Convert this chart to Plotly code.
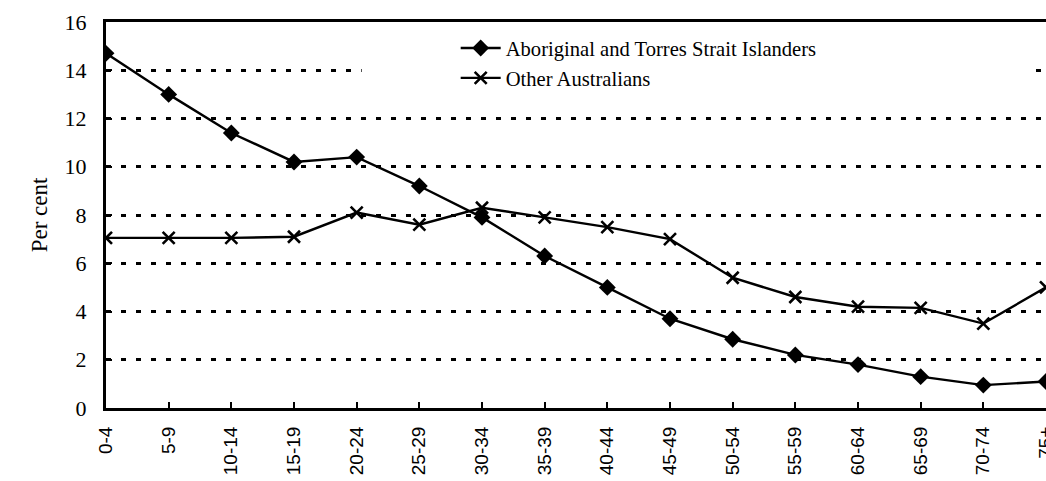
import plotly.graph_objects as go

age_groups = ["0-4", "5-9", "10-14", "15-19", "20-24", "25-29", "30-34", "35-39",
              "40-44", "45-49", "50-54", "55-59", "60-64", "65-69", "70-74", "75+"]
aboriginal = [14.7, 13.0, 11.4, 10.2, 10.4, 9.2, 7.9, 6.3, 5.0, 3.7, 2.85, 2.2, 1.8, 1.3, 0.95, 1.1]
other_aus = [7.05, 7.05, 7.05, 7.1, 8.1, 7.6, 8.3, 7.9, 7.5, 7.0, 5.4, 4.6, 4.2, 4.15, 3.5, 5.0]
y_ticks = [0, 2, 4, 6, 8, 10, 12, 14, 16]

fig = go.Figure()
fig.add_trace(go.Scatter(
    x=age_groups, y=aboriginal, mode="lines+markers",
    name="Aboriginal and Torres Strait Islanders",
    line=dict(color="black", width=2.4),
    marker=dict(symbol="diamond", size=13, color="black"),
))
fig.add_trace(go.Scatter(
    x=age_groups, y=other_aus, mode="lines+markers",
    name="Other Australians",
    line=dict(color="black", width=2.4),
    marker=dict(symbol="x-thin-open", size=12, color="black",
                line=dict(color="black", width=2.6)),
))

# white box behind legend breaking the gridline
fig.add_shape(type="rect", xref="paper", yref="y",
              x0=0.272, x1=0.983, y0=13.0, y1=15.4,
              fillcolor="white", line=dict(width=0), layer="above")

fig.update_layout(
    width=1046, height=481,
    margin=dict(l=106, r=0, t=22, b=73),
    paper_bgcolor="white", plot_bgcolor="white",
    font=dict(family="Liberation Serif", color="black", size=20),
    showlegend=True,
    legend=dict(x=0.372, y=0.984, xanchor="left", yanchor="top",
                bgcolor="rgba(0,0,0,0)", font=dict(family="Liberation Serif", size=20.6),
                tracegroupgap=0, itemwidth=40),
    xaxis=dict(
        type="category", range=[0, 15], automargin=False,
        showline=True, linecolor="black", linewidth=3, mirror=True,
        ticks="inside", ticklen=6, tickcolor="black", tickwidth=1.5,
        tickangle=-90, showgrid=False, zeroline=False,
        tickfont=dict(family="Liberation Sans", size=19, color="black"),
        ticklabelstandoff=8,
    ),
    yaxis=dict(
        range=[0, 16], tickvals=y_ticks, automargin=False,
        showline=True, linecolor="black", linewidth=3,
        ticks="inside", ticklen=6, tickcolor="black", tickwidth=1.5,
        showgrid=True, gridcolor="black", gridwidth=2.5, griddash="5px,10px",
        zeroline=False,
        tickfont=dict(family="Liberation Serif", size=22, color="black"),
        ticklabelstandoff=12,
        title=dict(text="Per cent", font=dict(family="Liberation Serif", size=23), standoff=11),
    ),
)

fig.write_html("out.html", config={"displayModeBar": False},
               post_script="document.body.style.margin='0';")
